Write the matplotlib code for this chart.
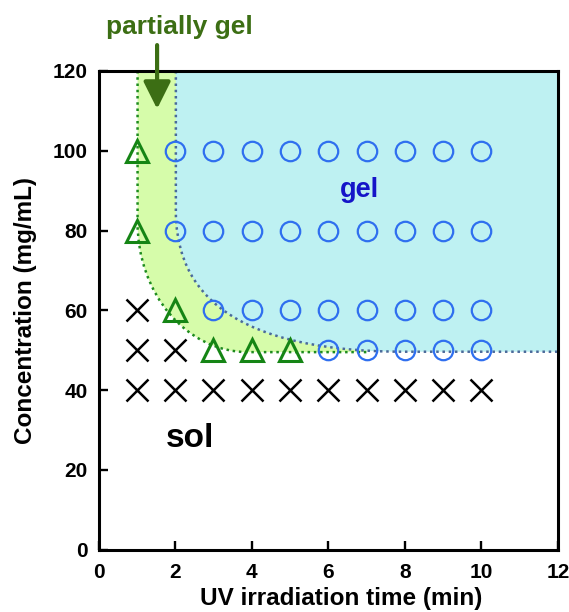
import matplotlib
matplotlib.use("Agg")
import matplotlib.pyplot as plt
from matplotlib.path import Path
from matplotlib.patches import PathPatch

plt.rcParams['font.family'] = ['Liberation Sans', 'DejaVu Sans']
plt.rcParams['font.weight'] = 'bold'

# ---- data ----
cross_x = [1, 2, 3, 4, 5, 6, 7, 8, 9, 10, 1, 2, 1]
cross_y = [40, 40, 40, 40, 40, 40, 40, 40, 40, 40, 50, 50, 60]

tri_x = [1, 1, 2, 3, 4, 5]
tri_y = [100, 80, 60, 50, 50, 50]

circ_x = [2, 3, 4, 5, 6, 7, 8, 9, 10,
          2, 3, 4, 5, 6, 7, 8, 9, 10,
          3, 4, 5, 6, 7, 8, 9, 10,
          6, 7, 8, 9, 10]
circ_y = [100] * 9 + [80] * 9 + [60] * 8 + [50] * 5

# region boundaries (line/bezier control points)
gel_bx = [2.02, 2.02, 2.02, 3.0, 8.0, 12.0]
gel_by = [120, 85, 68, 49.6, 49.6, 49.6]
part_bx = [1.02, 1.02, 1.02, 2.31, 3.9, 7.0]
part_by = [120, 82, 64.05, 49.5, 49.5, 49.5]

x_ticks = [0, 2, 4, 6, 8, 10, 12]
y_ticks = [0, 20, 40, 60, 80, 100, 120]

codes_b = [Path.MOVETO, Path.LINETO, Path.CURVE4, Path.CURVE4, Path.CURVE4, Path.LINETO]

fig = plt.figure(figsize=(5.69, 6.12), dpi=100)
ax = fig.add_axes([98.5 / 569, 1 - 549.5 / 612, (558 - 98.5) / 569, (549.5 - 71) / 612])
ax.set_xlim(0, 12)
ax.set_ylim(0, 120)

# partially gel fill
pv = list(zip(part_bx, part_by)) + [(part_bx[-1], 120), (part_bx[0], 120)]
pc = codes_b + [Path.LINETO, Path.CLOSEPOLY]
ax.add_patch(PathPatch(Path(pv, pc), facecolor='#D6FCAA', edgecolor='none', zorder=1))
# gel fill
gv = list(zip(gel_bx, gel_by)) + [(12, 120), (gel_bx[0], 120)]
ax.add_patch(PathPatch(Path(gv, pc), facecolor='#BEF1F2', edgecolor='none', zorder=1.1))

# dotted boundaries
ax.add_patch(PathPatch(Path(list(zip(part_bx, part_by)), codes_b), fill=False,
                       edgecolor='#1E8C1E', lw=1.8, ls=(0, (1, 1.5)), zorder=2))
ax.add_patch(PathPatch(Path(list(zip(gel_bx, gel_by)), codes_b), fill=False,
                       edgecolor='#4A6A9A', lw=1.8, ls=(0, (1, 1.5)), zorder=2.1))

# markers
ax.plot(cross_x, cross_y, ls='none', marker='x', ms=15.5, mew=1.8, color='black', zorder=3)
ax.plot(circ_x, circ_y, ls='none', marker='o', ms=14, mew=1.6, mfc='none',
        mec='#2F6FEF', zorder=3)
ax.plot(tri_x, tri_y, ls='none', marker='^', ms=15.5, mew=2.2, mfc='none',
        mec='#158515', zorder=3)

# annotations
ax.text(6.81, 88.5, 'gel', color='#1515C8', fontsize=19.5, fontweight='bold',
        ha='center', va='baseline', zorder=4)
ax.text(2.39, 25.6, 'sol', color='black', fontsize=24, fontweight='bold',
        ha='center', va='baseline', zorder=4)
ax.text(2.10, 129.4, 'partially gel', color='#3C6E14', fontsize=19, fontweight='bold',
        ha='center', va='baseline', clip_on=False)
ax.annotate('', xy=(1.53, 110.5), xytext=(1.53, 126.5),
            arrowprops=dict(arrowstyle='-|>,head_length=1.1,head_width=0.55',
                            mutation_scale=15, color='#3C6E14', lw=3,
                            shrinkA=0, shrinkB=0),
            annotation_clip=False, zorder=5)

# axes styling
for s in ax.spines.values():
    s.set_linewidth(2.2)
ax.set_xticks(x_ticks)
ax.set_yticks(y_ticks)
ax.tick_params(direction='in', length=6.5, width=1.7, labelsize=15, pad=8)
ax.tick_params(axis='x', pad=10)
for lab in ax.get_xticklabels() + ax.get_yticklabels():
    lab.set_fontweight('bold')
ax.set_xlabel('UV irradiation time (min)', fontsize=17.5, fontweight='bold')
ax.set_ylabel('Concentration (mg/mL)', fontsize=17.5, fontweight='bold')
ax.xaxis.set_label_coords((341 - 98.5) / (558 - 98.5), -(605 - 549.5) / (549.5 - 71), )
ax.xaxis.label.set_va('baseline')
ax.yaxis.set_label_coords(-(98.5 - 26) / (558 - 98.5), 0.5)
ax.yaxis.label.set_va('center')

fig.savefig('out.png', dpi=100)
